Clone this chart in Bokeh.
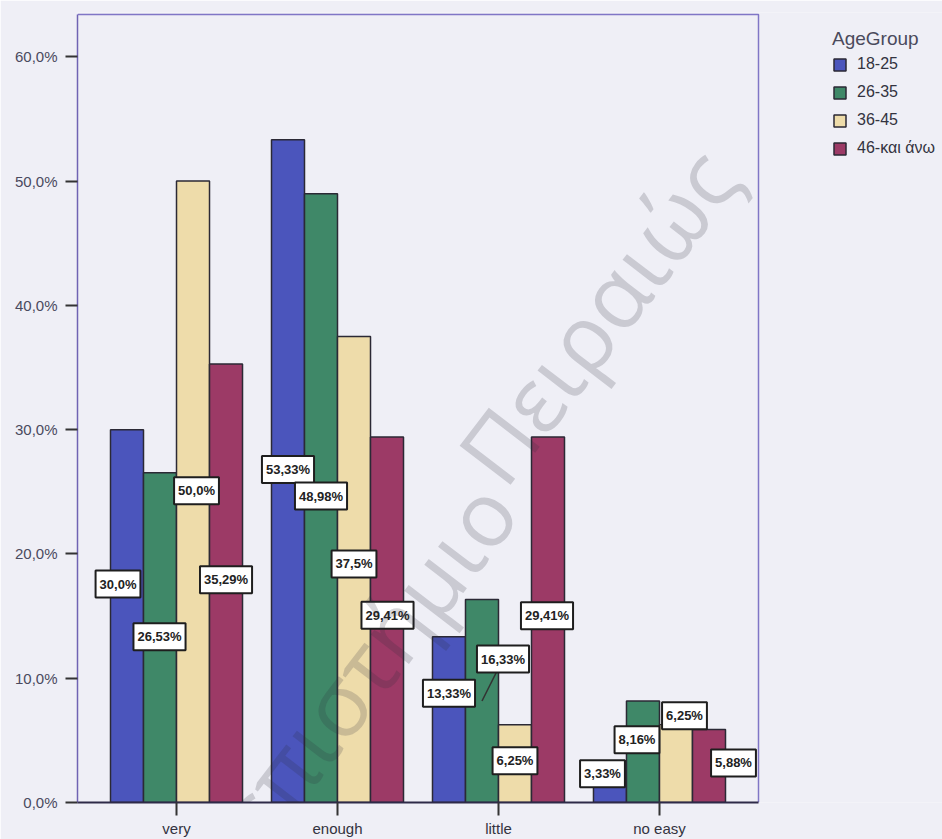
import math

from bokeh.core.properties import value
from bokeh.embed import file_html
from bokeh.models import (ColumnDataSource, FixedTicker, Label, Legend,
                          LegendItem, Range1d)
from bokeh.plotting import figure
from bokeh.resources import INLINE
from bokeh.transform import dodge

# ---- data -----------------------------------------------------------------
categories = ["very", "enough", "little", "no easy"]
age_groups = ["18-25", "26-35", "36-45", "46-και άνω"]

pct_18_25 = [30.0, 53.33, 13.33, 3.33]
pct_26_35 = [26.53, 48.98, 16.33, 8.16]
pct_36_45 = [50.0, 37.5, 6.25, 6.25]
pct_46_up = [35.29, 29.41, 29.41, 5.88]

y_ticks = [0, 10, 20, 30, 40, 50, 60]
y_tick_labels = ["0,0%", "10,0%", "20,0%", "30,0%", "40,0%", "50,0%", "60,0%"]

# ---- styling / layout -----------------------------------------------------
colors = ["#4B55BC", "#3F8868", "#EEDCAA", "#9C3A66"]
bar_width = 0.205
offsets = [-1.5 * bar_width, -0.5 * bar_width, 0.5 * bar_width, 1.5 * bar_width]

# pixel nudges of the value boxes (x right, y up) away from the bar middle
label_dx = [[-9, 0, 0, -7.5], [-0.5, 0, 21, -6], [3.5, 0, 0, 8.5], [0, 0.5, -1, 24.5]]
label_dy = [[32, 1.5, 26.5, 8], [1, 2, 42, 12], [1, 5.5, 3, 48], [3.5, 4.5, 4, 3]]

FONT = "Liberation Sans"
BG = "#EFEFF6"
W, H = 942, 839
LEFT, TOP, BOTTOM = 77, 12, 36
BOX_W, BOX_H = 681, 789          # plotting box (axes box) size in px
PAD = 0.23                        # empty space around the category groups
Y_MAX = 63.4                      # value at the top edge of the box

series = [pct_18_25, pct_26_35, pct_36_45, pct_46_up]
n = len(categories)
xc = list(range(n))

# the frame runs to the right edge so the legend sits inside it;
# the visible box is drawn explicitly
px_per_x = BOX_W / (n + PAD)
px_per_y = BOX_H / Y_MAX
X_LO = -0.5 - PAD / 2
X_BOX = n - 0.5 + PAD / 2
X_HI = X_LO + (W - LEFT) / px_per_x
Y_HI = (H - TOP - BOTTOM) / px_per_y


def pct_text(v):
    s = f"{v:.2f}".rstrip("0")
    if s.endswith("."):
        s += "0"
    return s.replace(".", ",") + "%"


p = figure(
    width=W, height=H,
    x_range=Range1d(X_LO, X_HI), y_range=Range1d(0, Y_HI),
    output_backend="svg", toolbar_location=None,
    min_border_left=LEFT, min_border_right=0,
    min_border_top=TOP, min_border_bottom=BOTTOM,
    background_fill_color=BG, border_fill_color=BG,
    outline_line_color=None,
)

src = ColumnDataSource(dict(
    xc=xc,
    **{f"v{i}": vals for i, vals in enumerate(series)},
    **{f"mid{i}": [v / 2 for v in vals] for i, vals in enumerate(series)},
    **{f"txt{i}": [pct_text(v) for v in vals] for i, vals in enumerate(series)},
    **{f"dx{i}": label_dx[i] for i in range(4)},
    # text glyph offsets are in screen space (downwards positive)
    **{f"dy{i}": [-d for d in label_dy[i]] for i in range(4)},
))

items = []
for i, g in enumerate(age_groups):
    r = p.vbar(x=dodge("xc", offsets[i]), top=f"v{i}", width=bar_width,
               source=src, fill_color=colors[i], line_color="#2B2935",
               line_width=1.5)
    items.append(LegendItem(label=g, renderers=[r]))

# top and right edges of the axes box
p.line(x=[X_LO, X_BOX, X_BOX], y=[Y_MAX, Y_MAX, 0], line_color="#8076C6",
       line_width=1.5)

# leader line for the displaced 26-35 / little box
k = categories.index("little")
x0 = xc[k] + offsets[1]
p.segment(x0=[x0], y0=[pct_26_35[k] / 2],
          x1=[x0 + label_dx[1][k] / px_per_x],
          y1=[pct_26_35[k] / 2 + label_dy[1][k] / px_per_y],
          line_color="#333333", line_width=1.5)

# boxed value labels
for i in range(4):
    p.text(x=dodge("xc", offsets[i]), y=f"mid{i}", text=f"txt{i}",
           x_offset=f"dx{i}", y_offset=f"dy{i}", source=src,
           anchor="center", text_align="center", text_baseline="middle",
           text_font=value(FONT), text_font_size="13px", text_font_style="bold",
           text_color="#222222", background_fill_color="white",
           border_line_color="#1E1E1E", border_line_width=2,
           padding=dict(x=4, y=6))

legend = Legend(items=items, location=(751, 640), title="AgeGroup",
                title_text_font=FONT, title_text_font_size="19px",
                title_text_font_style="normal", title_text_color="#4A4A5C",
                title_standoff=4,
                label_text_font=FONT, label_text_font_size="16px",
                label_text_color="#333340", label_standoff=10,
                glyph_width=15, glyph_height=15, label_height=20, spacing=8,
                padding=4, margin=0,
                background_fill_alpha=0, border_line_alpha=0)
p.add_layout(legend)

# axes
p.xgrid.visible = False
p.ygrid.visible = False
xa, ya = p.xaxis[0], p.yaxis[0]
xa.ticker = FixedTicker(ticks=xc)
xa.major_label_overrides = dict(zip(xc, categories))
xa.bounds = (X_LO, X_BOX)
ya.ticker = FixedTicker(ticks=y_ticks)
ya.major_label_overrides = dict(zip(y_ticks, y_tick_labels))
ya.bounds = (0, Y_MAX)
for ax in (xa, ya):
    ax.major_tick_line_color = "#333333"
    ax.major_tick_line_width = 2
    ax.major_tick_in = 0
    ax.minor_tick_line_color = None
    ax.major_label_text_font = FONT
    ax.major_label_text_font_size = "15px"
ya.axis_line_color = "#6F63B3"
ya.axis_line_width = 1.5
ya.major_tick_out = 12
ya.major_label_standoff = 8
ya.major_label_text_color = "#4A4A5E"
xa.axis_line_color = "#2E2A48"
xa.axis_line_width = 2
xa.major_tick_out = 13
xa.major_label_standoff = 4
xa.major_label_text_color = "#333340"

# faint diagonal watermark over the chart
wm = dict(x_units="screen", y_units="screen", angle=math.radians(52.5),
          text_baseline="alphabetic", text_font="Open Sans",
          text_font_size="90px", text_color="#2A2A3A", text_alpha=0.19,
          level="overlay")
p.add_layout(Label(x=418, y=309, text="Πανεπιστήμιο", text_align="right", **wm))
p.add_layout(Label(x=400, y=332, text="Πειραιώς", text_align="left", **wm))

open("out.html", "w").write(file_html(p, INLINE))
